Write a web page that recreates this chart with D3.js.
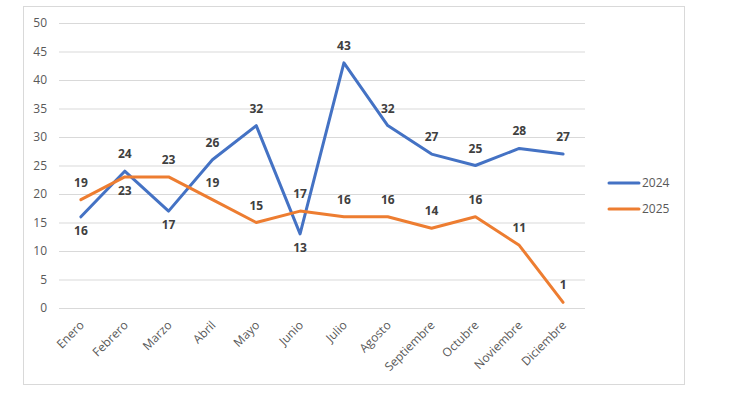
<!DOCTYPE html>
<html>
<head>
<meta charset="utf-8">
<script src="https://cdn.jsdelivr.net/npm/d3@7"></script>
<style>
  body { margin: 0; background: #fff; font-family: "Open Sans", "Noto Sans", "Liberation Sans", sans-serif; }
</style>
</head>
<body>
<div id="chart"></div>
<script>
const months = ["Enero", "Febrero", "Marzo", "Abril", "Mayo", "Junio", "Julio",
  "Agosto", "Septiembre", "Octubre", "Noviembre", "Diciembre"];
const values2024 = [16, 24, 17, 26, 32, 13, 43, 32, 27, 25, 28, 27];
const values2025 = [19, 23, 23, 19, 15, 17, 16, 16, 14, 16, 11, 1];
// label placement: 1 = above the point, -1 = below
const pos2024 = [-1, 1, -1, 1, 1, -1, 1, 1, 1, 1, 1, 1];
const pos2025 = [1, -1, 1, 1, 1, 1, 1, 1, 1, 1, 1, 1];
const yTicks = [0, 5, 10, 15, 20, 25, 30, 35, 40, 45, 50];

const series = [
  { name: "2024", color: "#4472C4", values: values2024, pos: pos2024 },
  { name: "2025", color: "#ED7D31", values: values2025, pos: pos2025 }
];

const svg = d3.select("#chart").append("svg")
  .attr("width", 730)
  .attr("height", 396);

// chart frame
svg.append("rect")
  .attr("x", 23.5).attr("y", 6.5)
  .attr("width", 661).attr("height", 378)
  .attr("fill", "#fff")
  .attr("stroke", "#d9d9d9");

const x = d3.scaleBand().domain(months).range([59, 585]);
const y = d3.scaleLinear().domain([0, 50]).range([308, 23]);
const cx = d => x(d) + x.bandwidth() / 2;

// gridlines
svg.append("g")
  .selectAll("line")
  .data(yTicks)
  .join("line")
  .attr("x1", 59).attr("x2", 585)
  .attr("y1", d => y(d) + 0.5).attr("y2", d => y(d) + 0.5)
  .attr("stroke", "#d9d9d9")
  .attr("stroke-width", 1);

// y axis labels
svg.append("g")
  .selectAll("text")
  .data(yTicks)
  .join("text")
  .attr("x", 47)
  .attr("y", d => y(d))
  .attr("dy", "0.35em")
  .attr("text-anchor", "end")
  .attr("font-size", 12)
  .attr("fill", "#595959")
  .text(d => d);

// x axis labels (rotated)
svg.append("g")
  .selectAll("text")
  .data(months)
  .join("text")
  .attr("transform", d => `translate(${cx(d) + 4},${326}) rotate(-45)`)
  .attr("text-anchor", "end")
  .attr("font-size", 12)
  .attr("fill", "#595959")
  .text(d => d);

const line = d3.line()
  .x((d, i) => cx(months[i]))
  .y(d => y(d));

series.forEach(s => {
  svg.append("path")
    .attr("d", line(s.values))
    .attr("fill", "none")
    .attr("stroke", s.color)
    .attr("stroke-width", 3)
    .attr("stroke-linejoin", "round")
    .attr("stroke-linecap", "round");
});

series.forEach(s => {
  svg.append("g")
    .selectAll("text")
    .data(s.values)
    .join("text")
    .attr("x", (d, i) => cx(months[i]))
    .attr("y", (d, i) => s.pos[i] > 0 ? y(d) - 13 : y(d) + 18)
    .attr("text-anchor", "middle")
    .attr("font-size", 12)
    .attr("font-weight", "bold")
    .attr("fill", "#404040")
    .text(d => d);
});

// legend
const legend = svg.append("g")
  .selectAll("g")
  .data(series)
  .join("g")
  .attr("transform", (d, i) => `translate(609,${183 + i * 26})`);

legend.append("line")
  .attr("x1", 0).attr("x2", 30)
  .attr("stroke", d => d.color)
  .attr("stroke-width", 3)
  .attr("stroke-linecap", "round");

legend.append("text")
  .attr("x", 33)
  .attr("dy", "0.35em")
  .attr("font-size", 12)
  .attr("fill", "#595959")
  .text(d => d.name);
</script>
</body>
</html>
